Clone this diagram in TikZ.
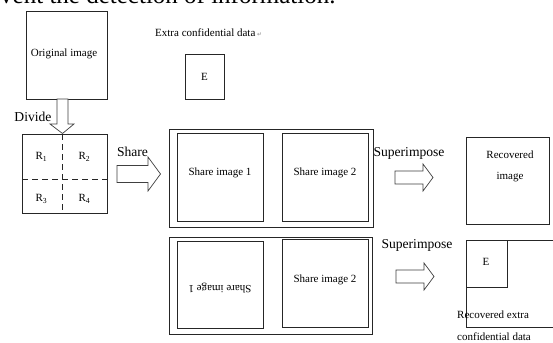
\documentclass[tikz,border=0pt]{standalone}
\usepackage{fontspec}
\setmainfont{Liberation Serif}
\newfontfamily\symfont{DejaVu Sans}
\begin{document}
\begin{tikzpicture}[x=1pt,y=-1pt,
  box/.style={draw=black!85,line width=0.8pt,inner sep=0pt},
  txt/.style={inner sep=0pt,font=\fontsize{11}{13}\selectfont},
  lbl/.style={inner sep=0pt,font=\fontsize{13.6}{15}\selectfont},
  hollow/.style={draw=black!75,line width=0.7pt,fill=white,line join=miter}]
\useasboundingbox (0,0) rectangle (553,342);
\clip (0,0) rectangle (553,342);
\fill[white] (0,0) rectangle (553,342);
% clipped caption line from the page above
\node[inner sep=0pt,anchor=base west,font=\fontsize{25}{27}\selectfont] (cap) at (0,3.5) {vent the detection of information.};
% original image
\node[box,minimum width=81pt,minimum height=88pt] (orig) at (66.5,55) {};
\node[txt] (origt) at (64,54) {Original image};
% extra confidential data
\node[txt,anchor=west] (extt) at (155,33) {Extra confidential data\,{\symfont\fontsize{6}{7}\selectfont\color{black!45}↵}};
\node[box,minimum width=39pt,minimum height=45pt] (ebox) at (204.5,76.5) {};
\node[txt] (et) at (ebox.center) {E};
% grid
\node[box,minimum width=85pt,minimum height=79pt] (grid) at (64.5,173.5) {};
\coordinate (vt) at (62,134);
\coordinate (vb) at (62,213);
\coordinate (hl) at (22,179);
\coordinate (hr) at (107,179);
\draw[black!85,line width=0.8pt,dash pattern=on 6pt off 4pt] (vt) -- (vb);
\draw[black!85,line width=0.8pt,dash pattern=on 6pt off 4pt] (hl) -- (hr);
\node[txt] (r1) at (41.5,157) {R\textsubscript{1}};
\node[txt] (r2) at (84.5,157) {R\textsubscript{2}};
\node[txt] (r3) at (41.5,199) {R\textsubscript{3}};
\node[txt] (r4) at (84.5,199) {R\textsubscript{4}};
% divide arrow
\draw[hollow] (57,99) -- (68,99) -- (68,124) -- (74,124) -- (62.5,133.5) -- (50,124) -- (57,124) -- cycle;
\node[lbl] (divide) at (33,117) {Divide};
% share arrow
\node[lbl] (share) at (132.5,152) {Share};
\draw[hollow] (117,165.5) -- (148,165.5) -- (148,157) -- (160.5,174) -- (148,191) -- (148,182.5) -- (117,182.5) -- cycle;
% share group 1
\node[box,minimum width=204pt,minimum height=98pt] (outerA) at (271,178) {};
\node[box,minimum width=86pt,minimum height=88pt] (s1a) at (220,177) {};
\node[box,minimum width=86pt,minimum height=88pt] (s2a) at (325,177) {};
\node[txt] (s1at) at (220,173) {Share image 1};
\node[txt] (s2at) at (325,173) {Share image 2};
% share group 2
\node[box,minimum width=203pt,minimum height=97pt] (outerB) at (270.5,285.5) {};
\node[box,minimum width=86pt,minimum height=87pt] (s1b) at (220,284.5) {};
\node[box,minimum width=86pt,minimum height=88pt] (s2b) at (325,283) {};
\node[txt,rotate=180] (s1bt) at (220,288) {Share image 1};
\node[txt] (s2bt) at (325,280) {Share image 2};
% superimpose 1
\node[lbl] (sup1) at (409,153) {Superimpose};
\draw[hollow] (395,171) -- (423,171) -- (423,164) -- (433,177.5) -- (423,191) -- (423,184) -- (395,184) -- cycle;
\node[box,minimum width=83pt,minimum height=87pt] (rec) at (507.5,180.5) {};
\node[txt] (rect1) at (510,155) {Recovered};
\node[txt] (rect2) at (510,177) {image};
% superimpose 2
\node[lbl] (sup2) at (417,245) {Superimpose};
\draw[hollow] (396,270) -- (424,270) -- (424,263) -- (434,276.5) -- (424,290) -- (424,283) -- (396,283) -- cycle;
\node[box,minimum width=100pt,minimum height=87pt] (recx) at (516,283.5) {};
\node[box,minimum width=41pt,minimum height=47pt] (recE) at (486.5,263.5) {};
\node[txt] (recEt) at (486,262) {E};
\node[txt,anchor=west] (recxt1) at (457,315) {Recovered extra};
\node[txt,anchor=west] (recxt2) at (457,336.5) {confidential data};
\end{tikzpicture}
\end{document}
